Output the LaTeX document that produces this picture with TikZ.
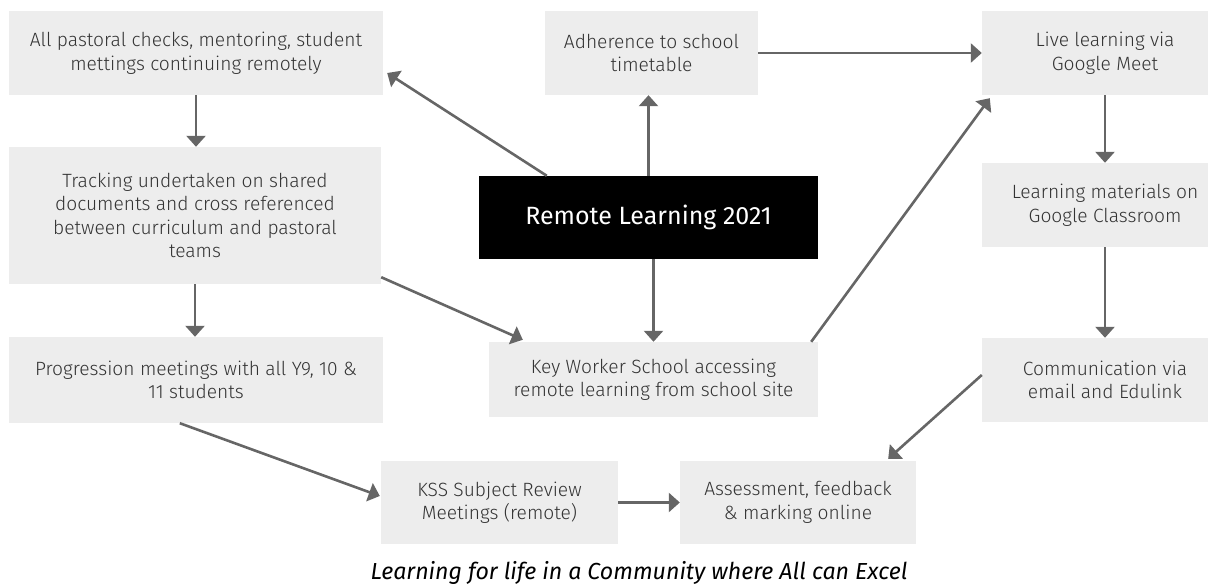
\documentclass[tikz,border=0pt]{standalone}
\usepackage{fontspec}
\setmainfont{Fira Sans}[UprightFont={* Light},ItalicFont={* Light Italic}]
\newfontfamily\titlefont{Fira Sans}
\usetikzlibrary{arrows.meta,calc}
\definecolor{boxgray}{HTML}{EDEDED}
\definecolor{arrowgray}{HTML}{666666}
\definecolor{textgray}{HTML}{333333}
\begin{document}
\begin{tikzpicture}[x=1pt,y=-1pt,
  box/.style={fill=boxgray, text=textgray, align=center, inner sep=0pt,
    font=\fontsize{19.2}{23.5}\selectfont},
  flow/.style={draw=arrowgray, line width=2.6pt,
    -{Triangle[length=11pt,width=19pt]}}]
\useasboundingbox (0,0) rectangle (1208,585);
\clip (0,0) rectangle (1208,585);

% left column
\node[box, minimum width=374pt, minimum height=84pt] (past) at (196,53)
  {All pastoral checks, mentoring, student\\mettings continuing remotely};
\node[box, minimum width=372pt, minimum height=137pt] (track) at (195,215.5)
  {Tracking undertaken on shared\\documents and cross referenced\\between curriculum and pastoral\\teams};
\node[box, minimum width=374pt, minimum height=86pt] (prog) at (196,380)
  {Progression meetings with all Y9, 10 \&\\11 students};

% centre column
\node[box, minimum width=213pt, minimum height=84pt] (adh) at (651.5,53)
  {Adherence to school\\timetable};
\node[fill=black, text=white, inner sep=0pt, minimum width=339pt, minimum height=83pt,
  font=\titlefont\fontsize{25}{29}\selectfont] (black) at (648.5,217.5)
  {Remote Learning 2021};
\node[box, minimum width=329pt, minimum height=75pt] (key) at (653.5,379.5)
  {Key Worker School accessing\\remote learning from school site};

% right column
\node[box, minimum width=246pt, minimum height=84pt] (live) at (1105,53)
  {Live learning via\\Google Meet};
\node[box, minimum width=246pt, minimum height=84pt] (learn) at (1105,205)
  {Learning materials on\\Google Classroom};
\node[box, minimum width=246pt, minimum height=84pt] (comm) at (1105,380)
  {Communication via\\email and Edulink};

% bottom row
\node[box, minimum width=237pt, minimum height=83pt] (kss) at (499.5,502.5)
  {KSS Subject Review\\Meetings (remote)};
\node[box, minimum width=236pt, minimum height=83pt] (assess) at (798,502.5)
  {Assessment, feedback\\\& marking online};

% motto under the chart
\node[anchor=base, inner sep=0pt, text=black,
  font=\titlefont\fontsize{23.2}{28}\selectfont\itshape]
  (motto) at (639,579.5) {Learning for life in a Community where All can Excel};

% connectors
\draw[flow] ($(black.north west)+(68,0)$) -- ($(past.east)+(4,20)$);
\draw[flow] (black.north) -- (black.north |- adh.south);
\draw[flow] (adh.east) -- (adh.east -| live.west);
\draw[flow] (black.south -| key.north) -- (key.north);
\draw[flow] (past.south) -- (past.south |- track.north);
\draw[flow] (track.south) -- (track.south |- prog.north);
\draw[flow] ($(track.south east)+(0,-7)$) -- ($(key.north west)+(34,-2)$);
\draw[flow] ($(key.north east)+(-7,0)$) -- ($(live.south west)+(8,3)$);
\draw[flow] (live.south) -- (learn.north);
\draw[flow] (learn.south) -- (comm.north);
\draw[flow] ($(comm.west)+(0,-5)$) -- ($(assess.north east)+(-28,-2)$);
\draw[flow] ($(prog.south west)+(171,0)$) -- ($(kss.west)+(-1,-6.5)$);
\draw[flow] (kss.east) -- (assess.west);
\end{tikzpicture}
\end{document}
